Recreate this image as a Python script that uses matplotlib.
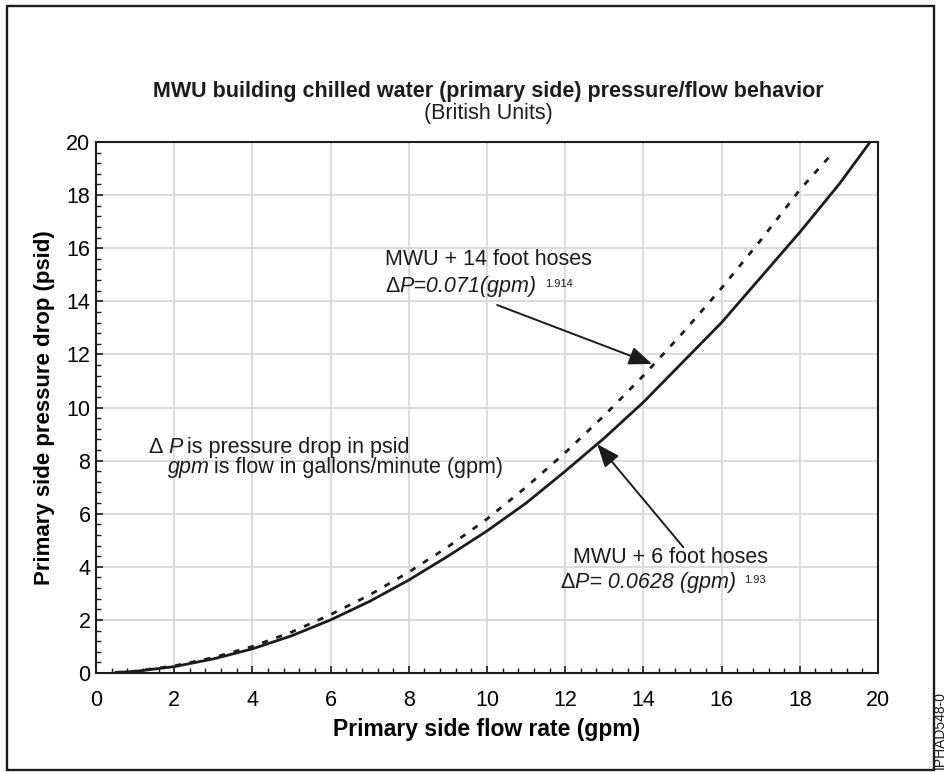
#!/usr/bin/env python3
"""MWU chilled water pressure/flow chart (primary side, British units)."""

import matplotlib
matplotlib.use("Agg")
import matplotlib.pyplot as plt
import matplotlib.patches as mpatches
from matplotlib.ticker import MultipleLocator

# values
flow_6ft = [0.5, 1, 2, 3, 4, 5, 6, 7, 8, 9, 10, 11, 12, 13, 14, 15, 16, 17, 18, 19, 19.8]
dp_6ft = [0.02, 0.06, 0.24, 0.53, 0.91, 1.4, 2.0, 2.7, 3.5, 4.4, 5.35, 6.4, 7.6,
          8.85, 10.2, 11.7, 13.2, 14.9, 16.6, 18.4, 20.0]

flow_14ft = [0.5, 1, 2, 3, 4, 5, 6, 7, 8, 9, 10, 11, 12, 13, 14, 15, 16, 17, 18, 18.85]
dp_14ft = [0.02, 0.07, 0.27, 0.58, 1.0, 1.54, 2.2, 2.94, 3.8, 4.75, 5.8, 7.0, 8.3,
           9.7, 11.2, 12.8, 14.5, 16.3, 18.2, 19.6]

x_ticks = [0, 2, 4, 6, 8, 10, 12, 14, 16, 18, 20]
y_ticks = [0, 2, 4, 6, 8, 10, 12, 14, 16, 18, 20]

FS = 15.5  # main text size

plt.rcParams.update({
    "font.family": "Liberation Sans",
    "font.size": FS,
    "text.color": "#1c1c1c",
})

W, H = 946, 772
fig = plt.figure(figsize=(W / 100, H / 100), dpi=100)
ax = fig.add_axes([96 / W, 1 - 673 / H, (878 - 96) / W, (673 - 142) / H])

ax.plot(flow_6ft, dp_6ft, color="#1c1c1c", lw=2.0, solid_capstyle="round", zorder=3)
ax.plot(flow_14ft, dp_14ft, color="#1c1c1c", lw=2.0, dashes=(2.2, 3.2), zorder=3)

ax.set_xlim(0, 20)
ax.set_ylim(0, 20)
ax.set_xticks(x_ticks)
ax.set_yticks(y_ticks)
ax.xaxis.set_minor_locator(MultipleLocator(0.4))
ax.yaxis.set_minor_locator(MultipleLocator(0.4))
ax.tick_params(which="both", direction="in", top=False, right=False, color="#1c1c1c")
ax.tick_params(which="major", length=5, width=1.2, labelsize=FS)
ax.tick_params(which="minor", length=3.5, width=1.0)
ax.tick_params(axis="x", which="major", pad=12)
ax.tick_params(axis="y", which="major", pad=4)
ax.grid(True, which="major", color="#d9d9d9", lw=1.3, zorder=0)
for sp in ax.spines.values():
    sp.set_linewidth(1.5)
    sp.set_color("#1c1c1c")

ax.set_xlabel("Primary side flow rate (gpm)", fontsize=16.5, fontweight="bold", labelpad=5)
ax.set_ylabel("Primary side pressure drop (psid)", fontsize=16, fontweight="bold", labelpad=8)

fig.text(488 / W, 1 - 92 / H, "MWU building chilled water (primary side) pressure/flow behavior",
         ha="center", va="center", fontsize=FS, fontweight="bold")
fig.text(488 / W, 1 - 114 / H, "(British Units)", ha="center", va="center", fontsize=FS)

ARROW = dict(arrowstyle="-|>,head_length=0.7,head_width=0.28", lw=1.4, color="#1c1c1c",
             mutation_scale=20, shrinkA=0, shrinkB=0)


def eq_text(x, y, lead, body, sup, sup_dx):
    """Upright delta, italic equation, small superscript exponent."""
    t1 = ax.text(x, y, lead, ha="left", va="baseline", fontsize=FS, zorder=4)
    t2 = ax.annotate(body, xy=(1, 0), xycoords=t1, ha="left", va="bottom",
                     fontsize=FS, fontstyle="italic", zorder=4)
    ax.annotate(sup, xy=(1, 1), xycoords=t2, xytext=(sup_dx, -2),
                textcoords="offset points", ha="left", va="top", fontsize=8, zorder=4)


# 14 foot hoses
ax.text(7.39, 15.37, "MWU + 14 foot hoses", ha="left", va="baseline", fontsize=FS)
eq_text(7.39, 14.35, "\u0394", "P=0.071(gpm)", "1.914", 6)
ax.annotate("", xy=(14.22, 11.64), xytext=(10.26, 13.86), arrowprops=ARROW)

# 6 foot hoses
ax.text(12.19, 4.14, "MWU + 6 foot hoses", ha="left", va="baseline", fontsize=FS)
eq_text(11.88, 3.2, "\u0394", "P= 0.0628 (gpm)", "1.93", 6)
ax.annotate("", xy=(12.82, 8.62), xytext=(15.02, 4.74), arrowprops=ARROW)

# legend note
n1 = ax.text(1.36, 8.30, "\u0394 ", ha="left", va="baseline", fontsize=FS)
n2 = ax.annotate("P", xy=(1, 0), xycoords=n1, ha="left", va="bottom",
                 fontsize=FS, fontstyle="italic")
ax.annotate("is pressure drop in psid", xy=(1, 0), xycoords=n2, xytext=(3, 0),
            textcoords="offset points", ha="left", va="bottom", fontsize=FS)
g1 = ax.text(1.84, 7.53, "gpm", ha="left", va="baseline", fontsize=FS, fontstyle="italic")
ax.annotate("is flow in gallons/minute (gpm)", xy=(1, 0), xycoords=g1, xytext=(3, 0),
            textcoords="offset points", ha="left", va="bottom", fontsize=FS)

# outer frame and figure id
fig.patches.append(mpatches.Rectangle((7 / W, 2 / H), (934 - 7) / W, (768 - 4) / H,
                                      transform=fig.transFigure, fill=False,
                                      lw=1.7, edgecolor="#1c1c1c"))
fig.text(939.5 / W, 3 / H, "IPHAD548-0", rotation=90, ha="center", va="bottom", fontsize=10)

fig.savefig("out.png", dpi=100, facecolor="white")
plt.close(fig)
